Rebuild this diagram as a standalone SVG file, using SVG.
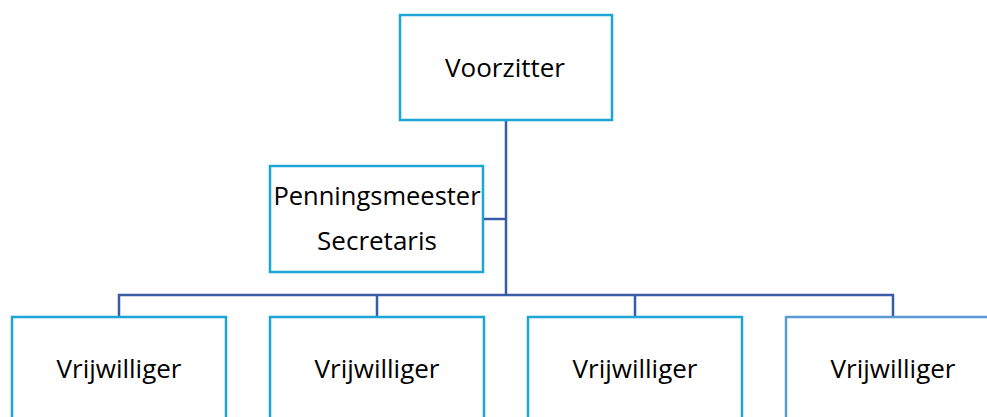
<svg xmlns="http://www.w3.org/2000/svg" width="987" height="417" viewBox="0 0 987 417">
<style>
.box{fill:#fff;stroke:#1CA6D5;stroke-width:2.5}
.box2{fill:#fff;stroke:#5B9BD5;stroke-width:2.5}
.lbl{font-family:"Open Sans","Liberation Sans",sans-serif;font-size:26px;fill:#000;text-anchor:middle}
.con{fill:none;stroke:#3A5BA6;stroke-width:2.5}
</style>
<rect width="987" height="417" fill="#fff"/>
<g id="connectors">
<path class="con" d="M506,120 V295 M483,219 H506 M119,317 V295 H893 V317 M377,295 V317 M635,295 V317"/>
</g>
<g id="voorzitter"><rect class="box" x="400" y="15" width="212" height="105"/><text class="lbl" x="505" y="77">Voorzitter</text></g>
<g id="penningsmeester"><rect class="box" x="270" y="166" width="213" height="106"/><text class="lbl" x="377" y="205" style="font-size:25.5px">Penningsmeester</text><text class="lbl" x="377" y="250">Secretaris</text></g>
<g id="vrijwilliger1"><rect class="box" x="12" y="317" width="214" height="110"/><text class="lbl" x="119" y="378">Vrijwilliger</text></g>
<g id="vrijwilliger2"><rect class="box" x="270" y="317" width="214" height="110"/><text class="lbl" x="377" y="378">Vrijwilliger</text></g>
<g id="vrijwilliger3"><rect class="box" x="528" y="317" width="214" height="110"/><text class="lbl" x="635" y="378">Vrijwilliger</text></g>
<g id="vrijwilliger4"><rect class="box2" x="786" y="317" width="214" height="110"/><text class="lbl" x="893" y="378">Vrijwilliger</text></g>
</svg>
